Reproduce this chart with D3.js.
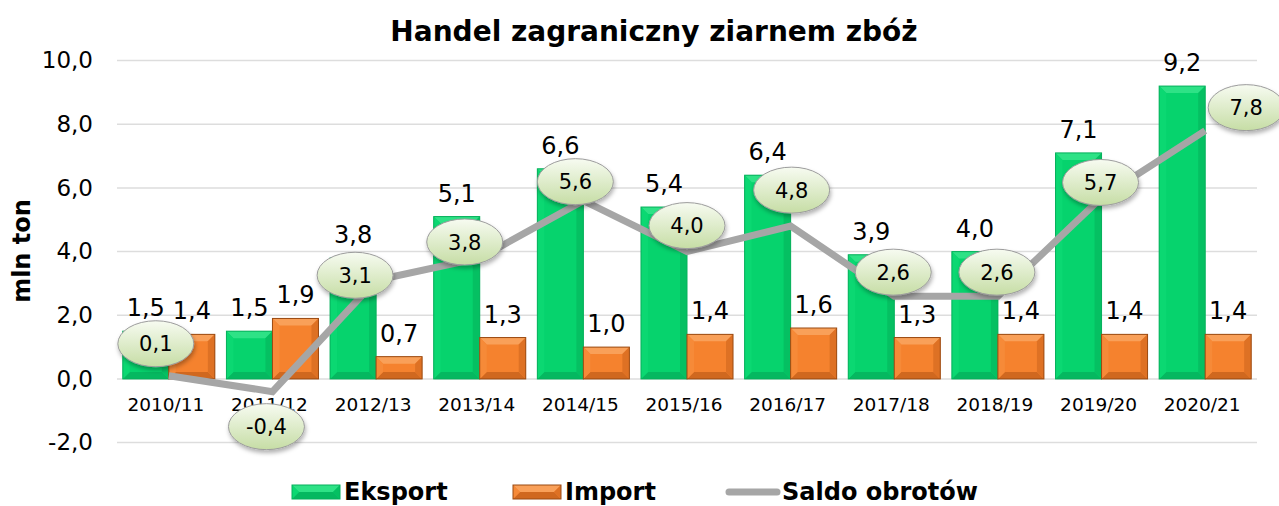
<!DOCTYPE html>
<html><head><meta charset="utf-8">
<script src="https://cdn.jsdelivr.net/npm/d3@7"></script>
<style>body{margin:0;background:#fff}svg{display:block;font-family:"DejaVu Sans",Verdana,sans-serif}</style>
</head><body>
<script>
const categories = ["2010/11","2011/12","2012/13","2013/14","2014/15","2015/16","2016/17","2017/18","2018/19","2019/20","2020/21"];
const eksport = [1.5,1.5,3.8,5.1,6.6,5.4,6.4,3.9,4.0,7.1,9.2];
const importV = [1.4,1.9,0.7,1.3,1.0,1.4,1.6,1.3,1.4,1.4,1.4];
const saldo = [0.1,-0.4,3.1,3.8,5.6,4.0,4.8,2.6,2.6,5.7,7.8];
const yTicks = [-2,0,2,4,6,8,10];
const title = "Handel zagraniczny ziarnem zbóż";
const yTitle = "mln ton";
const legendNames = ["Eksport","Import","Saldo obrotów"];

// layout (not data): label ellipse shifts relative to the line points
const saldoLabelShift = [[-13,-32],[-6,35],[-21,-5],[-15,-16],[-8,-19],[0,-26],[1,-36],[-1,-24],[-1,-24],[-1,-15],[41,-23]];

const W = 1279, H = 506;
const svg = d3.select("body").append("svg").attr("width",W).attr("height",H);
const defs = svg.append("defs");
const eg = defs.append("linearGradient").attr("id","ellG").attr("x1",0).attr("y1",0).attr("x2",0).attr("y2",1);
eg.append("stop").attr("offset","0%").attr("stop-color","#F7FBF1");
eg.append("stop").attr("offset","100%").attr("stop-color","#C6DDA5");
const f = defs.append("filter").attr("id","sh").attr("x","-30%").attr("y","-30%").attr("width","160%").attr("height","170%");
f.append("feDropShadow").attr("dx",1).attr("dy",3).attr("stdDeviation",2).attr("flood-color","#000").attr("flood-opacity",0.3);

const x = d3.scaleBand().domain(categories).range([117,1257]).paddingInner(0.112).paddingOuter(0.056);
const x1 = d3.scaleBand().domain(["e","i"]).range([0,x.bandwidth()]);
const y = d3.scaleLinear().domain([-2,10]).range([442.6,60.6]);
const fmt = v => d3.format(".1f")(v).replace(".",",").replace("\u2212","-");

// gridlines
svg.append("g").selectAll("line").data(yTicks).join("line")
  .attr("x1",117).attr("x2",1257).attr("y1",d=>y(d)).attr("y2",d=>y(d))
  .attr("stroke","#DDDDDD").attr("stroke-width",1.5);
// y axis
const ya = svg.append("g").attr("transform","translate(112,0)")
  .call(d3.axisLeft(y).tickValues(yTicks).tickFormat(fmt).tickSize(0).tickPadding(19));
ya.select(".domain").remove();
ya.selectAll("text").attr("font-size",23).attr("fill","#000").attr("font-family","DejaVu Sans");
// x axis labels
const xa = svg.append("g").attr("transform",`translate(-3,${y(0)})`)
  .call(d3.axisBottom(x).tickSize(0).tickPadding(19));
xa.select(".domain").remove();
xa.selectAll("text").attr("font-size",18.5).attr("fill","#000").attr("font-family","DejaVu Sans");

function bevelBar(g, x0, w, top, bottom, c){
  const b = Math.min(7, w/2, (bottom-top)/2);
  const x2 = x0+w;
  g.append("rect").attr("x",x0).attr("y",top).attr("width",w).attr("height",bottom-top).attr("fill",c.main);
  g.append("path").attr("d",`M${x0},${top}L${x2},${top}L${x2-b},${top+b}L${x0+b},${top+b}Z`).attr("fill",c.top);
  g.append("path").attr("d",`M${x0},${bottom}L${x2},${bottom}L${x2-b},${bottom-b}L${x0+b},${bottom-b}Z`).attr("fill",c.bot);
  g.append("path").attr("d",`M${x0},${top}L${x0+b},${top+b}L${x0+b},${bottom-b}L${x0},${bottom}Z`).attr("fill",c.left);
  g.append("path").attr("d",`M${x2},${top}L${x2-b},${top+b}L${x2-b},${bottom-b}L${x2},${bottom}Z`).attr("fill",c.right);
  g.append("rect").attr("x",x0).attr("y",top).attr("width",w).attr("height",bottom-top).attr("fill","none").attr("stroke",c.stroke).attr("stroke-width",1);
}
const green = {main:"#06D36D",top:"#2EE286",bot:"#05B860",left:"#0BD872",right:"#05C062",stroke:"#07B05C"};
const orange = {main:"#F5822E",top:"#F9A059",bot:"#D0681F",left:"#F68A38",right:"#DE7124",stroke:"#9A4A12"};

const bars = svg.append("g");
categories.forEach((c,i)=>{
  bevelBar(bars, x(c)+x1("e"), x1.bandwidth(), y(eksport[i]), y(0), green);
  bevelBar(bars, x(c)+x1("i"), x1.bandwidth(), y(importV[i]), y(0), orange);
});
// bar value labels
svg.append("g").selectAll("text").data(categories).join("text")
  .attr("x",c=>x(c)+x1("e")+x1.bandwidth()/2).attr("y",(c,i)=>y(eksport[i])-15)
  .attr("text-anchor","middle").attr("font-size",24).text((c,i)=>fmt(eksport[i]));
svg.append("g").selectAll("text").data(categories).join("text")
  .attr("x",c=>x(c)+x1("i")+x1.bandwidth()/2).attr("y",(c,i)=>y(importV[i])-15)
  .attr("text-anchor","middle").attr("font-size",24).text((c,i)=>fmt(importV[i]));

// saldo line
const pts = categories.map((c,i)=>[x(c)+x.bandwidth()/2, y(saldo[i])]);
svg.append("path").attr("d",d3.line()(pts)).attr("fill","none").attr("stroke","#A6A6A6")
  .attr("stroke-width",7).attr("stroke-linejoin","miter");
const lbl = svg.append("g").selectAll("g").data(categories).join("g")
  .attr("transform",(c,i)=>`translate(${pts[i][0]+saldoLabelShift[i][0]},${pts[i][1]+saldoLabelShift[i][1]})`);
lbl.append("ellipse").attr("rx",38).attr("ry",23).attr("fill","url(#ellG)").attr("stroke","#9C9C9C").attr("stroke-width",1).attr("filter","url(#sh)");
lbl.append("text").attr("text-anchor","middle").attr("dy","0.36em").attr("font-size",21).text((c,i)=>fmt(saldo[i]));

// titles
svg.append("text").attr("x",654).attr("y",41).attr("text-anchor","middle").attr("font-weight","bold").attr("font-size",28).text(title);
svg.append("text").attr("transform","translate(30,251) rotate(-90)").attr("text-anchor","middle").attr("font-weight","bold").attr("font-size",24).text(yTitle);

// legend
const lg = svg.append("g");
const ly = 492;
const lgItems = [{x:292, c:green},{x:513, c:orange},{x:725, line:true}];
lgItems.forEach((it,i)=>{
  if(it.line){
    lg.append("line").attr("x1",it.x+4).attr("x2",it.x+52).attr("y1",ly).attr("y2",ly).attr("stroke","#A6A6A6").attr("stroke-width",7).attr("stroke-linecap","round");
  } else {
    bevelBar(lg, it.x, 48, ly-7, ly+7, it.c);
  }
  lg.append("text").attr("x",it.x+(it.line?57:52)).attr("y",ly+8).attr("font-weight","bold").attr("font-size",24).text(legendNames[i]);
});
</script>
</body></html>
